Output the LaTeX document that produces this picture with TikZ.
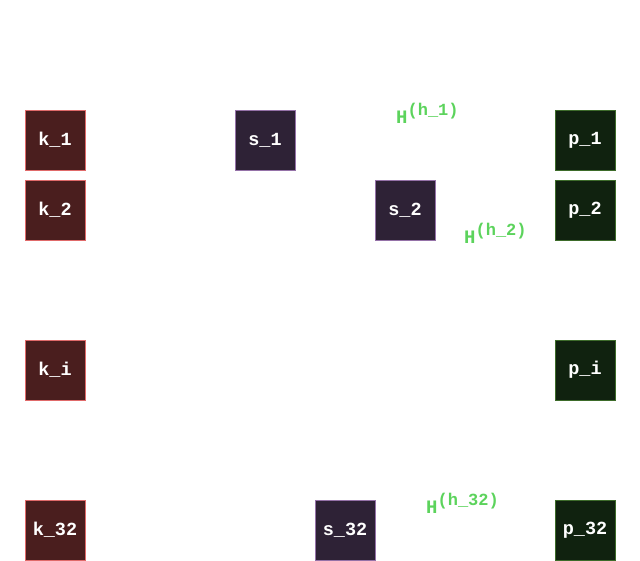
\documentclass[tikz,border=0pt]{standalone}
\usepackage{fontspec}
\setmonofont{Liberation Mono}
\usepackage{xcolor}
\usetikzlibrary{positioning}

\definecolor{kfill}{HTML}{4A1E1E}
\definecolor{kline}{HTML}{E06A6A}
\definecolor{sfill}{HTML}{2E2236}
\definecolor{sline}{HTML}{9572A8}
\definecolor{pfill}{HTML}{10220F}
\definecolor{pline}{HTML}{3D6B2A}
\definecolor{hgreen}{HTML}{5CD35C}

\newcommand{\hsup}[1]{H\raisebox{8.5pt}{\fontsize{17}{17}\selectfont(#1)}}

\begin{document}
\begin{tikzpicture}[x=1pt, y=1pt,
    box/.style={draw, rectangle, line width=0.8pt, minimum size=60pt, inner sep=0pt,
                text=white, font=\ttfamily\bfseries\fontsize{18.5}{18.5}\selectfont},
    kbox/.style={box, fill=kfill, draw=kline},
    sbox/.style={box, fill=sfill, draw=sline},
    pbox/.style={box, fill=pfill, draw=pline},
    hlabel/.style={anchor=base west, inner sep=0pt, text=hgreen,
                   font=\ttfamily\bfseries\fontsize{19}{19}\selectfont}]
    \useasboundingbox (0,0) rectangle (640,561);

    % Key nodes
    \node[kbox] (k1)  at (55,421) {k\_1};
    \node[kbox] (k2)  at (55,351) {k\_2};
    \node[kbox] (ki)  at (55,191) {k\_i};
    \node[kbox] (k32) at (55,31)  {k\_32};

    % Slot nodes
    \node[sbox] (s1)  at (265,421) {s\_1};
    \node[sbox] (s2)  at (405,351) {s\_2};
    \node[sbox] (s32) at (345,31)  {s\_32};

    % Position nodes
    \node[pbox] (p1)  at (585,421) {p\_1};
    \node[pbox] (p2)  at (585,351) {p\_2};
    \node[pbox] (pi)  at (585,191) {p\_i};
    \node[pbox] (p32) at (585,31)  {p\_32};

    % Hash labels
    \node[hlabel] (h1)  at (396,437) {\hsup{h\_1}};
    \node[hlabel] (h2)  at (464,317) {\hsup{h\_2}};
    \node[hlabel] (h32) at (426,47)  {\hsup{h\_32}};
\end{tikzpicture}
\end{document}
